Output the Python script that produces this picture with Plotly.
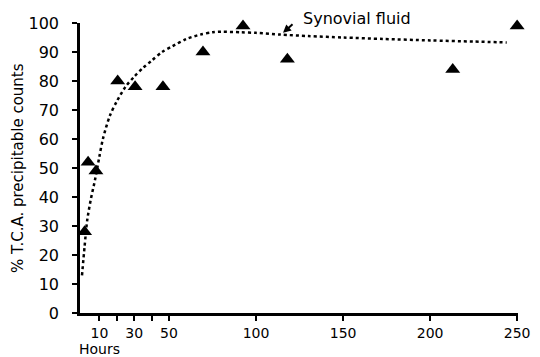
import plotly.graph_objects as go

# Measured points (triangles)
hours = [1.5, 3.5, 8, 20.5, 30.5, 46.5, 54.5, 69.5, 92.5, 118, 213, 250]
pct_counts = [28, 52, 49, 80, 78, 78, 101, 90, 99, 87.5, 84, 99]

# Fitted curve (dashed)
curve_hours = [0, 1.5, 3, 5, 7.5, 10, 12, 16, 20, 25, 30, 35, 40, 46, 52, 60, 68, 75, 80,
               91, 100, 114, 130, 150, 173, 200, 225, 244]
curve_pct = [13, 23, 32, 39, 46, 54, 60, 68, 73, 78, 81.5, 84.5, 87, 90, 92, 94.5, 96, 96.8, 97,
             96.8, 96.6, 96, 95.5, 95, 94.5, 94, 93.6, 93.3]

x_tickvals = [10, 20, 30, 40, 50, 100, 150, 200, 250]
x_ticktext = ["10", "", "30", "", "50", "100", "150", "200", "250"]
y_tickvals = [0, 10, 20, 30, 40, 50, 60, 70, 80, 90, 100]

FONT = "DejaVu Sans"

fig = go.Figure()
fig.add_trace(go.Scatter(
    x=curve_hours, y=curve_pct, mode="lines",
    line=dict(color="black", width=2.5, dash="3px,3px", shape="spline", smoothing=0.8),
    hoverinfo="skip", showlegend=False, cliponaxis=False,
))
fig.add_trace(go.Scatter(
    x=hours, y=pct_counts, mode="markers",
    marker=dict(symbol="triangle-up", size=13, color="black"),
    showlegend=False, cliponaxis=False,
))

# arrow pointing at the curve (tail offset in pixels)
fig.add_annotation(
    x=115.5, y=96.6, xref="x", yref="y", ax=11, ay=-10,
    showarrow=True, arrowhead=2, arrowsize=0.8, arrowwidth=2, arrowcolor="black",
    standoff=0, text="",
)
fig.add_annotation(
    x=0.505, y=1.017, xref="paper", yref="paper", text="Synovial fluid", showarrow=False,
    xanchor="left", yanchor="middle", font=dict(family=FONT, size=16, color="black"),
)
fig.add_annotation(
    x=10, y=0, xref="x", yref="paper", yshift=-36, text="Hours", showarrow=False,
    xanchor="center", yanchor="middle", font=dict(family=FONT, size=14, color="black"),
)
fig.add_annotation(
    x=0, y=0.5, xref="paper", yref="paper", xshift=-62, text="% T.C.A. precipitable counts",
    showarrow=False, textangle=-90, xanchor="center", yanchor="middle",
    font=dict(family=FONT, size=15, color="black"),
)

# page body has an 8px default margin, so the figure is sized/offset to compensate
fig.update_layout(
    width=532, height=357,
    margin=dict(l=72, r=22, t=15, b=52, autoexpand=False),
    paper_bgcolor="white", plot_bgcolor="white",
    font=dict(family=FONT, size=15, color="black"),
)
fig.update_xaxes(
    range=[-1.15, 250.5], tickvals=x_tickvals, ticktext=x_ticktext, automargin=False,
    showgrid=False, zeroline=False, showline=True, linecolor="black", linewidth=2.5,
    ticks="outside", ticklen=5, tickwidth=2, tickcolor="black",
    tickfont=dict(family=FONT, size=14),
)
fig.update_yaxes(
    range=[0, 100], tickvals=y_tickvals, automargin=False,
    showgrid=False, zeroline=False, showline=True, linecolor="black", linewidth=2.5,
    ticks="outside", ticklen=5, tickwidth=2, tickcolor="black",
    tickfont=dict(family=FONT, size=16), ticklabelstandoff=10,
)

fig.write_html("out.html")
